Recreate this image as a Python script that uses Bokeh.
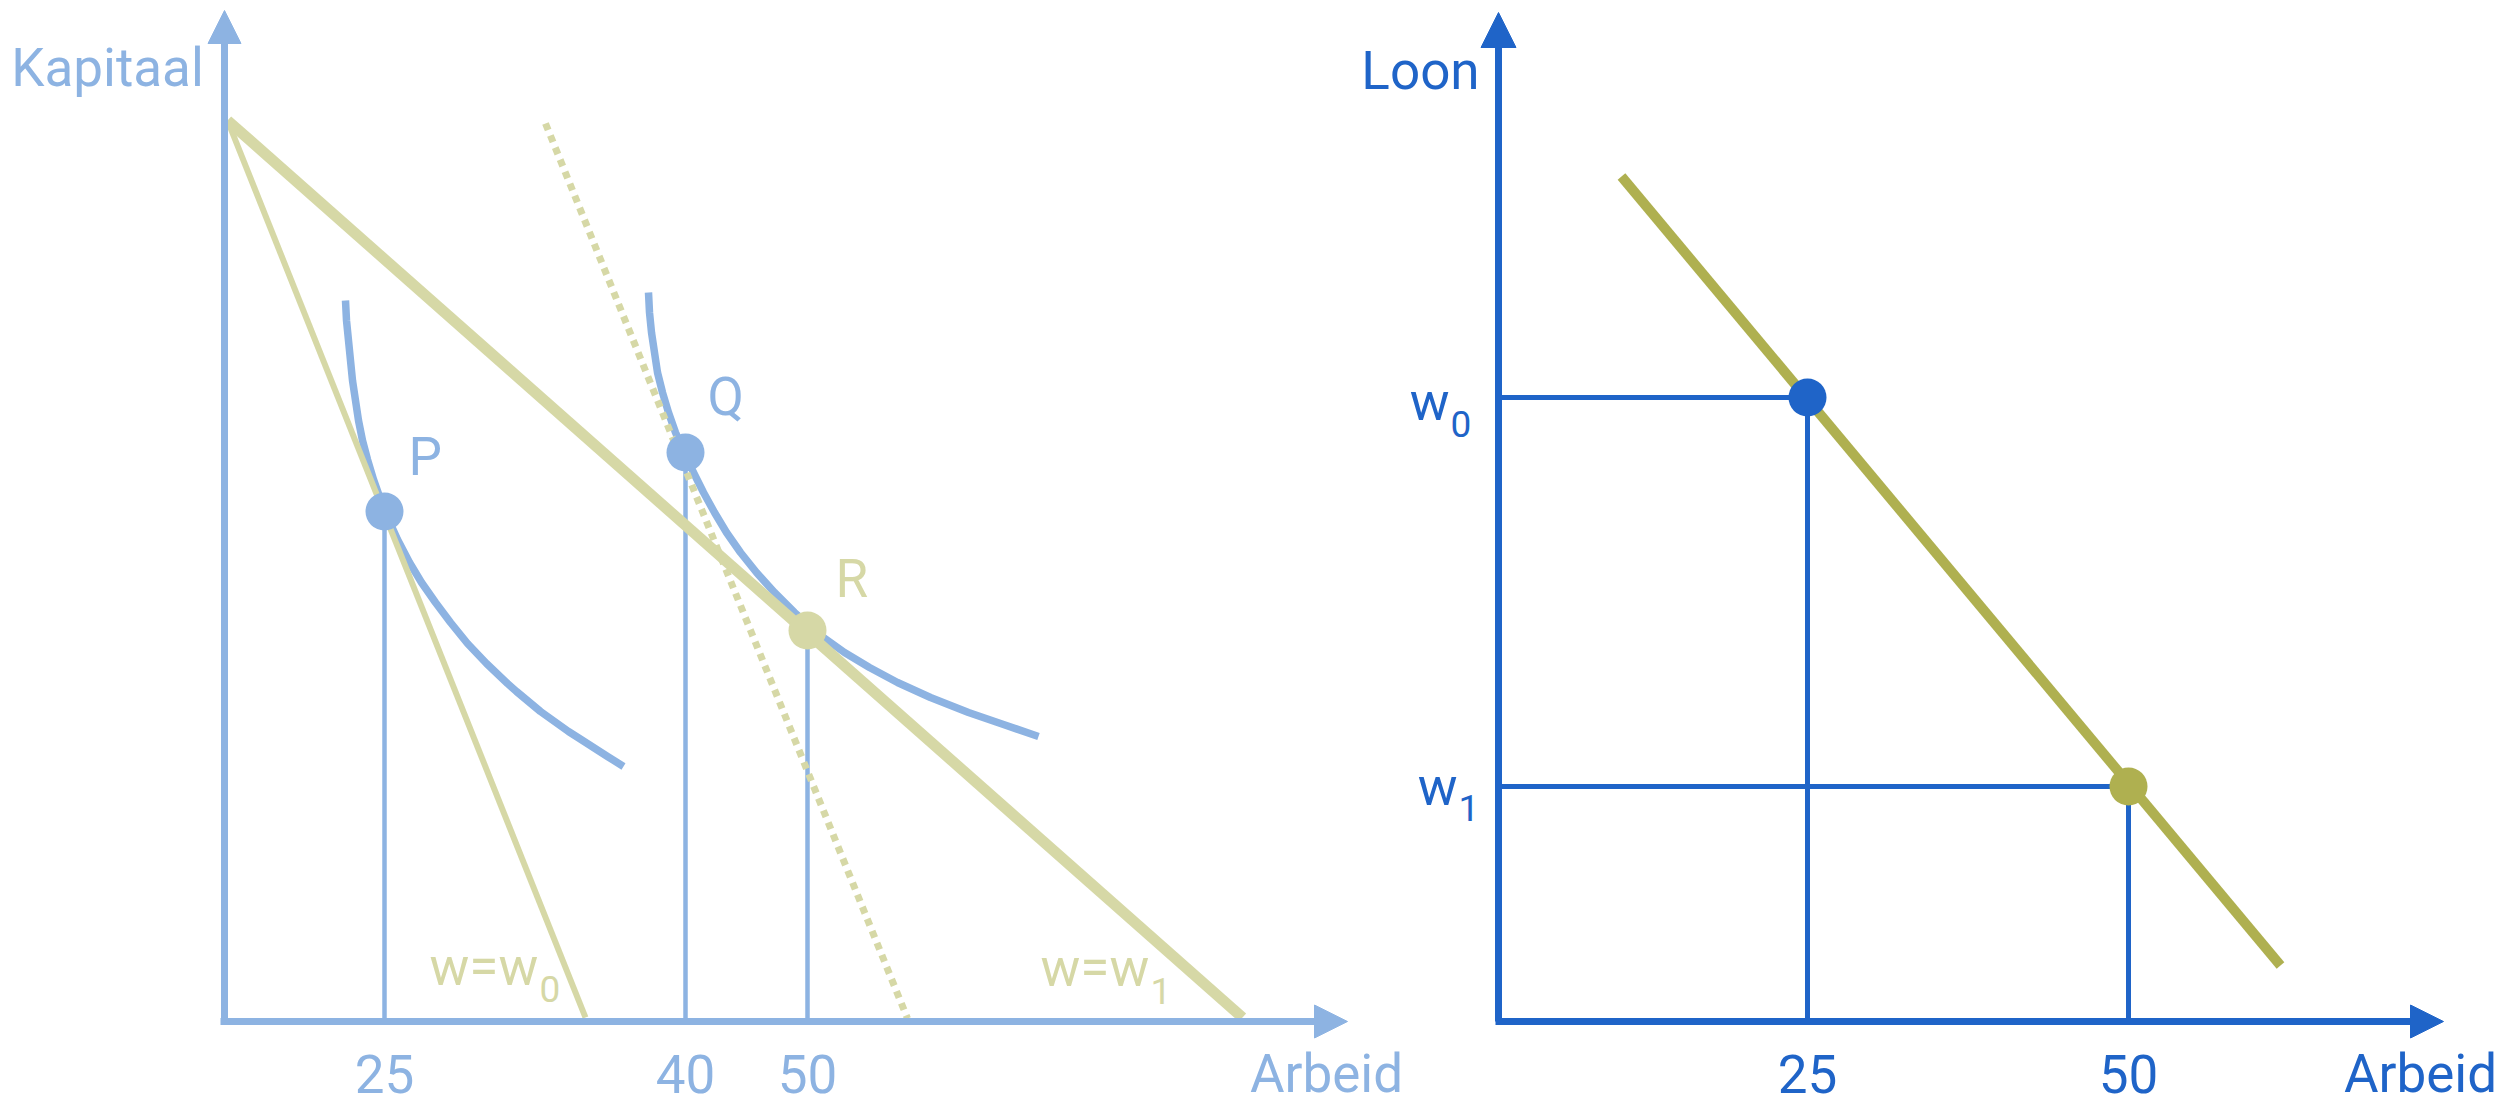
from bokeh.plotting import figure
from bokeh.models import Arrow, NormalHead, Range1d
from bokeh.core.properties import value
from bokeh.embed import file_html
from bokeh.resources import INLINE

FONT = "Roboto"
FS = "53px"
FS_SUB = "37px"

LIGHT_BLUE = "#8db3e2"
KHAKI = "#d6d8a6"
DARK_BLUE = "#1f64c8"
OLIVE = "#afb050"

# ---------------- data: left panel (Kapitaal vs Arbeid, schematic units) ----------------
iso1_x = [121, 122, 124, 126, 128, 131, 134, 138, 143, 149, 156, 164, 173, 185, 197, 211, 226,
          243, 262, 283, 292, 316, 344, 355, 383, 399]
iso1_y = [721, 701, 681, 661, 641, 621, 601, 581, 562, 542, 522, 502, 482, 459, 439, 419, 399,
          378, 358, 338, 330, 310, 290, 283, 265, 255]
iso2_x = [424, 425, 427, 430, 433, 438, 444, 451, 460, 469, 479, 490, 502, 516, 532, 550, 570,
          587, 599, 620, 645, 673, 706, 744, 779, 814]
iso2_y = [729, 709, 689, 669, 649, 629, 609, 589, 569, 549, 529, 509, 489, 469, 449, 429, 409,
          394, 384, 369, 354, 339, 324, 309, 297, 285]
budget_w1_x = [3, 1018]
budget_w1_y = [901, 4]
budget_w0_x = [3, 361]
budget_w0_y = [901, 4]
budget_dotted_x = [321, 683]
budget_dotted_y = [898, 3]
left_pts_x = [160, 461, 583]
left_pts_y = [510, 569, 391]
left_pts_names = ["P", "Q", "R"]
left_tick_labels = ["25", "40", "50"]
left_axis_x_end = 1123
left_axis_y_end = 1011

# ---------------- data: right panel (Loon vs Arbeid) ----------------
demand_x = [123, 782]
demand_y = [845, 56]
right_pts_x = [309, 630]
right_pts_y = [624, 235]
right_tick_labels = ["25", "50"]
wage_subs = ["0", "1"]
right_axis_x_end = 945
right_axis_y_end = 1009

# ---------------- figure ----------------
W, H = 2510, 1106
p = figure(width=W, height=H, x_range=Range1d(-224, W - 224), y_range=Range1d(1021 - H, 1021),
           output_backend="svg", toolbar_location=None, min_border=0,
           x_axis_location=None, y_axis_location=None)
p.extra_x_ranges = {"right": Range1d(-1498, W - 1498)}
p.grid.visible = False
p.outline_line_color = None
p.background_fill_color = "white"
p.border_fill_color = "white"

R = "right"

# ---- left panel lines ----
p.segment(x0=left_pts_x, y0=[0] * 3, x1=left_pts_x, y1=left_pts_y,
          line_color=LIGHT_BLUE, line_width=4.5)
p.line(iso1_x, iso1_y, line_color=LIGHT_BLUE, line_width=7.5, line_join="round")
p.line(iso2_x, iso2_y, line_color=LIGHT_BLUE, line_width=7.5, line_join="round")
p.line(budget_w0_x, budget_w0_y, line_color=KHAKI, line_width=6)
p.line(budget_w1_x, budget_w1_y, line_color=KHAKI, line_width=11)
p.line(budget_dotted_x, budget_dotted_y, line_color=KHAKI, line_width=7, line_dash="7 6")

# ---- right panel lines ----
p.segment(x0=[0] * 2, y0=right_pts_y, x1=right_pts_x, y1=right_pts_y,
          line_color=DARK_BLUE, line_width=5, x_range_name=R)
p.segment(x0=right_pts_x, y0=[0] * 2, x1=right_pts_x, y1=right_pts_y,
          line_color=DARK_BLUE, line_width=5, x_range_name=R)
p.line(demand_x, demand_y, line_color=OLIVE, line_width=10, x_range_name=R)


# ---- axes with arrow heads ----
def axis_arrow(x0, y0, x1, y1, color, size, rn="default"):
    p.add_layout(Arrow(end=NormalHead(size=size, fill_color=color, line_color=color, line_width=1),
                       x_start=x0, y_start=y0, x_end=x1, y_end=y1,
                       line_color=color, line_width=7, x_range_name=rn))


axis_arrow(0, 0, 0, left_axis_y_end, LIGHT_BLUE, 33)
axis_arrow(-4, 0, left_axis_x_end, 0, LIGHT_BLUE, 33)
axis_arrow(0, 0, 0, right_axis_y_end, DARK_BLUE, 35, R)
axis_arrow(-3, 0, right_axis_x_end, 0, DARK_BLUE, 33, R)

# ---- points ----
p.scatter(left_pts_x, left_pts_y, size=38, marker="circle",
          fill_color=[LIGHT_BLUE, LIGHT_BLUE, KHAKI], line_color=None)
p.scatter(right_pts_x, right_pts_y, size=38, marker="circle", x_range_name=R,
          fill_color=[DARK_BLUE, OLIVE], line_color=None)

# ---- texts ----
TXT = dict(text_font=value(FONT), text_baseline="alphabetic", text_line_height=1.0)

# point labels
p.text(x=left_pts_x, y=left_pts_y, text=left_pts_names, x_offset=[24, 22, 28], y_offset=[-55, -56, -52],
       text_color=[LIGHT_BLUE, LIGHT_BLUE, KHAKI], text_font_size=FS, text_align="left", **TXT)

# tick labels
p.text(x=left_pts_x, y=[0] * 3, text=left_tick_labels, y_offset=52,
       text_color=LIGHT_BLUE, text_font_size=FS, text_align="center", **TXT)
p.text(x=right_pts_x, y=[0] * 2, text=right_tick_labels, y_offset=52, x_range_name=R,
       text_color=DARK_BLUE, text_font_size=FS, text_align="center", **TXT)

# axis titles
p.text(x=[left_axis_x_end], y=[0], text=["Arbeid"], x_offset=-21, y_offset=52,
       text_color=LIGHT_BLUE, text_font_size=FS, text_align="center", **TXT)
p.text(x=[0], y=[left_axis_y_end], text=["Kapitaal"], x_offset=-117, y_offset=57,
       text_color=LIGHT_BLUE, text_font_size=FS, text_align="center", **TXT)
p.text(x=[right_axis_x_end], y=[0], text=["Arbeid"], x_offset=-23, y_offset=52, x_range_name=R,
       text_color=DARK_BLUE, text_font_size=FS, text_align="center", **TXT)
p.text(x=[0], y=[right_axis_y_end], text=["Loon"], x_offset=-78, y_offset=58, x_range_name=R,
       text_color=DARK_BLUE, text_font_size=FS, text_align="center", **TXT)

# budget line labels w=w0, w=w1
p.text(x=[budget_w0_x[1], budget_w1_x[1]], y=[0, 0], text=["w=w", "w=w"],
       x_offset=[-156, -202], y_offset=[-55, -54],
       text_color=KHAKI, text_font_size=FS, text_align="left", **TXT)
p.text(x=[budget_w0_x[1], budget_w1_x[1]], y=[0, 0], text=wage_subs,
       x_offset=[-46, -92], y_offset=[-33, -31],
       text_color=KHAKI, text_font_size=FS_SUB, text_align="left", **TXT)

# wage labels on the right y axis
p.text(x=[0, 0], y=right_pts_y, text=["w", "w"], x_offset=[-49, -41], y_offset=[4, 0], x_range_name=R,
       text_color=DARK_BLUE, text_font_size=FS, text_align="right", **TXT)
p.text(x=[0, 0], y=right_pts_y, text=wage_subs, x_offset=[-48, -40], y_offset=[26, 21], x_range_name=R,
       text_color=DARK_BLUE, text_font_size=FS_SUB, text_align="left", **TXT)

open("out.html", "w").write(file_html(p, INLINE))
